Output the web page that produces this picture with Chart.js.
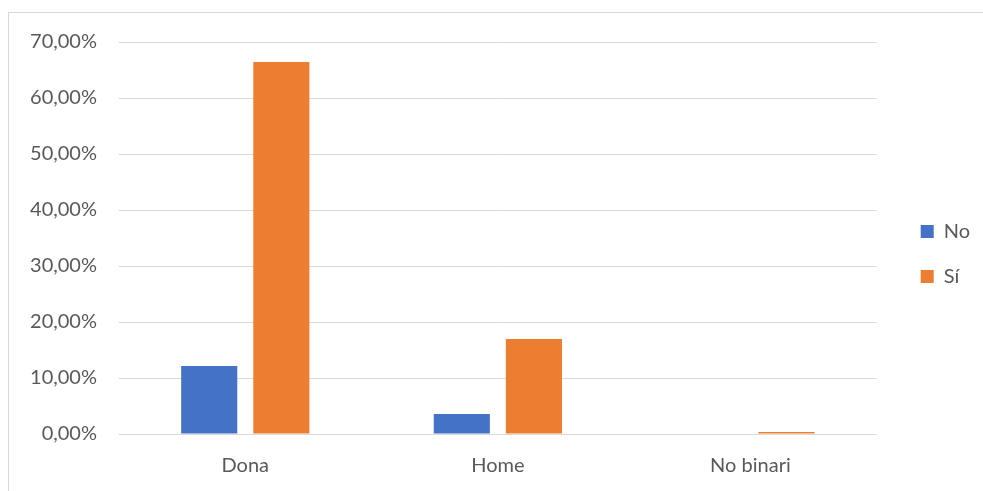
<!DOCTYPE html>
<html>
<head>
<meta charset="utf-8">
<script src="https://cdn.jsdelivr.net/npm/chart.js@4/dist/chart.umd.min.js"></script>
<style>
  body { margin: 0; background: #fff; }
  #frame {
    position: absolute; left: 8px; top: 12px; width: 990px; height: 500px;
    border: 1px solid #d9d9d9; box-sizing: border-box;
  }
  #wrap { position: absolute; left: 9px; top: 13px; width: 974px; height: 478px; }
</style>
</head>
<body>
<div id="frame"></div>
<div id="wrap"><canvas id="chart"></canvas></div>
<script>
const categories = ['Dona', 'Home', 'No binari'];
const seriesNames = ['No', 'Sí'];
const noValues = [12.14, 3.57, 0];
const siValues = [66.43, 16.96, 0.36];
const yTicks = [0, 10, 20, 30, 40, 50, 60, 70];

const textColor = '#595959';
Chart.defaults.font.family = 'Lato, "Open Sans", sans-serif';
Chart.defaults.font.size = 20;
Chart.defaults.color = textColor;

function pct(v) {
  return v.toFixed(2).replace('.', ',') + '%';
}

// fixed axis sizes so the plot area lands where the original one is
function fixWidth(w) {
  return (axis) => {
    axis.width = w;
    axis.paddingTop = 29;
    axis.paddingBottom = 0;
  };
}

new Chart(document.getElementById('chart'), {
  type: 'bar',
  data: {
    labels: categories,
    datasets: [
      { label: seriesNames[0], data: noValues, backgroundColor: '#4472c4' },
      { label: seriesNames[1], data: siValues, backgroundColor: '#ed7d31' }
    ]
  },
  options: {
    responsive: true,
    maintainAspectRatio: false,
    animation: false,
    categoryPercentage: 0.571,
    barPercentage: 0.778,
    layout: { padding: { left: 9, top: 17, right: 3, bottom: 13 } },
    plugins: {
      tooltip: { enabled: false },
      legend: {
        position: 'right',
        labels: {
          boxWidth: 13,
          boxHeight: 13,
          padding: 25,
          color: textColor,
          font: { size: 20 }
        }
      }
    },
    scales: {
      x: {
        grid: { display: false, drawTicks: false },
        border: { display: false },
        afterFit: (axis) => { axis.height = 44; axis.paddingLeft = 0; axis.paddingRight = 0; },
        ticks: { padding: 20, color: textColor }
      },
      y: {
        min: 0,
        max: 70,
        afterBuildTicks: (axis) => { axis.ticks = yTicks.map(v => ({ value: v })); },
        afterFit: fixWidth(101),
        grid: { color: '#d9d9d9', lineWidth: 1, drawTicks: false },
        border: { display: false },
        ticks: { padding: 22, color: textColor, callback: (v) => pct(v) }
      },
      gap: {
        position: 'right',
        display: true,
        afterFit: fixWidth(19),
        grid: { display: false, drawTicks: false },
        border: { display: false },
        ticks: { display: false }
      }
    }
  }
});
</script>
</body>
</html>
